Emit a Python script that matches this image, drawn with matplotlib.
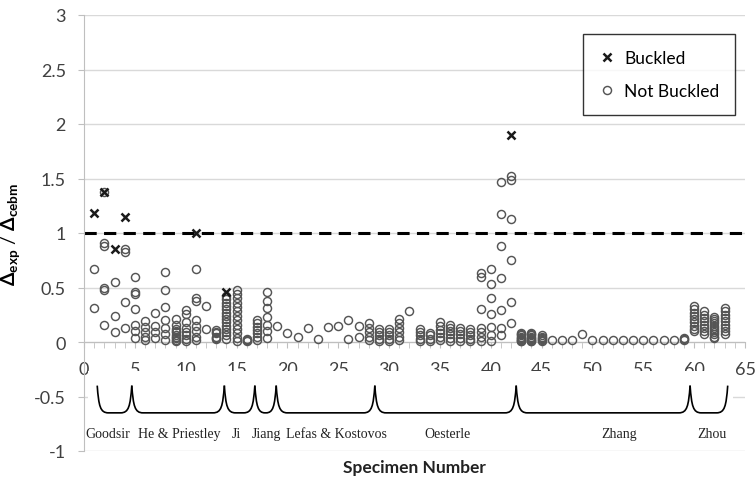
import numpy as np
import matplotlib
matplotlib.use('Agg')
import matplotlib.pyplot as plt
from matplotlib.path import Path
from matplotlib.patches import PathPatch, Rectangle
from matplotlib.lines import Line2D

plt.rcParams['font.family'] = ['Lato', 'DejaVu Sans']
plt.rcParams['mathtext.fontset'] = 'custom'
plt.rcParams['mathtext.rm'] = 'Lato:bold'
plt.rcParams['mathtext.it'] = 'Lato:bold'
plt.rcParams['mathtext.default'] = 'rm'

# Buckled specimens
b_x = [1, 2, 3, 4, 11, 14, 42]
b_y = [1.18, 1.38, 0.85, 1.15, 1.00, 0.46, 1.90]

# Not buckled specimens (specimen number, ratio)
nb_x = ([1]*2 + [2]*6 + [3]*3 + [4]*4 +                                   # Goodsir
        [5]*7 + [6]*5 + [7]*4 + [8]*7 + [9]*10 + [10]*8 + [11]*8 + [12]*2 + [13]*6 +  # He & Priestley
        [14]*14 + [15]*13 + [16]*4 +                                       # Ji
        [17]*7 + [18]*7 +                                                  # Jiang
        [19, 20, 21, 22, 23, 24, 25] + [26]*2 + [27]*2 + [28]*5 +           # Lefas & Kostovos
        [29]*5 + [30]*5 + [31]*6 + [32] + [33]*5 + [34]*4 + [35]*6 + [36]*6 +
        [37]*5 + [38]*5 + [39]*7 + [40]*7 + [41]*7 + [42]*6 +               # Oesterle
        [43]*9 + [44]*9 + [45]*6 + [46, 47, 48, 49, 50, 51, 52, 53, 54, 55, 56, 57, 58] + [59]*3 +  # Zhang
        [60]*9 + [61]*8 + [62]*11 + [63]*9)                                # Zhou
nb_y = ([0.67, 0.31] + [1.38, 0.91, 0.88, 0.50, 0.48, 0.16] + [0.55, 0.24, 0.09] + [0.85, 0.83, 0.37, 0.13] +
        [0.60, 0.46, 0.44, 0.30, 0.16, 0.10, 0.04] + [0.19, 0.14, 0.09, 0.05, 0.02] + [0.27, 0.15, 0.09, 0.04] +
        [0.64, 0.48, 0.32, 0.20, 0.13, 0.07, 0.02] + [0.21, 0.16, 0.12, 0.10, 0.09, 0.06, 0.05, 0.04, 0.02, 0.01] +
        [0.29, 0.26, 0.18, 0.13, 0.09, 0.06, 0.03, 0.01] + [0.67, 0.40, 0.38, 0.20, 0.15, 0.10, 0.05, 0.02] +
        [0.33, 0.12] + [0.11, 0.09, 0.08, 0.05, 0.04, 0.03] +
        [0.42, 0.39, 0.36, 0.33, 0.30, 0.27, 0.24, 0.21, 0.18, 0.15, 0.12, 0.09, 0.06, 0.03] +
        [0.48, 0.44, 0.40, 0.36, 0.32, 0.28, 0.24, 0.20, 0.16, 0.12, 0.08, 0.04, 0.01] + [0.03, 0.02, 0.02, 0.01] +
        [0.20, 0.17, 0.14, 0.11, 0.08, 0.05, 0.02] + [0.46, 0.38, 0.31, 0.23, 0.16, 0.10, 0.04] +
        [0.15, 0.08, 0.05, 0.13, 0.03, 0.14, 0.15] + [0.20, 0.03] + [0.15, 0.05] + [0.17, 0.13, 0.09, 0.05, 0.02] +
        [0.12, 0.09, 0.06, 0.03, 0.01] + [0.12, 0.09, 0.06, 0.03, 0.01] + [0.21, 0.17, 0.13, 0.09, 0.05, 0.02] +
        [0.28] + [0.12, 0.09, 0.06, 0.03, 0.01] + [0.08, 0.06, 0.03, 0.01] + [0.18, 0.15, 0.11, 0.08, 0.05, 0.02] +
        [0.16, 0.13, 0.10, 0.07, 0.04, 0.01] + [0.13, 0.10, 0.07, 0.04, 0.01] + [0.12, 0.09, 0.06, 0.03, 0.01] +
        [0.63, 0.60, 0.30, 0.13, 0.09, 0.05, 0.01] + [0.67, 0.53, 0.40, 0.26, 0.14, 0.06, 0.01] +
        [1.47, 1.17, 0.88, 0.59, 0.29, 0.13, 0.06] + [1.52, 1.49, 1.13, 0.75, 0.37, 0.17] +
        [0.08, 0.07, 0.06, 0.05, 0.04, 0.03, 0.02, 0.01, 0.01] + [0.08, 0.07, 0.06, 0.05, 0.04, 0.03, 0.02, 0.01, 0.01] +
        [0.06, 0.05, 0.04, 0.03, 0.02, 0.01] +
        [0.02, 0.02, 0.02, 0.07, 0.02, 0.02, 0.02, 0.02, 0.02, 0.02, 0.02, 0.02, 0.02] + [0.04, 0.03, 0.02] +
        [0.33, 0.30, 0.27, 0.24, 0.21, 0.18, 0.15, 0.12, 0.10] + [0.28, 0.25, 0.22, 0.19, 0.16, 0.13, 0.10, 0.07] +
        [0.23, 0.21, 0.19, 0.17, 0.15, 0.13, 0.11, 0.09, 0.07, 0.05, 0.04] +
        [0.31, 0.28, 0.25, 0.22, 0.19, 0.16, 0.13, 0.10, 0.07])

# brace boundaries and author names
brace_edges = [1.3, 4.7, 13.8, 16.8, 18.9, 28.6, 42.5, 59.6, 63.3]
authors = ['Goodsir', 'He & Priestley', 'Ji', 'Jiang', 'Lefas & Kostovos', 'Oesterle', 'Zhang', 'Zhou']
author_x = [2.3, 9.4, 15.0, 17.9, 24.8, 35.7, 52.6, 61.7]

fig = plt.figure(figsize=(7.56, 4.81), dpi=100)
ax = fig.add_axes([84/756, 1-452/481, 661/756, 436/481])
ax.set_xlim(0, 65)
ax.set_ylim(-1, 3)

for s in ['top', 'right']:
    ax.spines[s].set_visible(False)
ax.spines['bottom'].set_position(('data', 0))
ax.spines['bottom'].set_color('#bfbfbf')
ax.spines['left'].set_color('#bfbfbf')
ax.yaxis.grid(True, color='#d9d9d9', lw=1.0)
ax.set_axisbelow(True)

yt = np.arange(-1, 3.01, 0.5)
ax.set_yticks(yt)
ax.set_yticklabels(['%g' % v for v in yt])
ax.set_xticks(np.arange(0, 66, 5))
ax.set_xticks(np.arange(0, 66, 1), minor=True)
ax.tick_params(axis='both', which='both', color='#bfbfbf', length=4, labelsize=13, labelcolor='#404040')
ax.tick_params(axis='x', pad=10)
ax.tick_params(axis='y', pad=9)

# white band behind braces
ax.add_patch(Rectangle((0.4, -0.97), 63.4, 0.7, facecolor='white', edgecolor='none', zorder=1))

ax.axhline(1, color='black', lw=2.2, dashes=(4, 2.4), zorder=2)
ax.plot(nb_x, nb_y, 'o', ls='none', ms=5.8, mfc='none', mec='#555555', mew=1.05, zorder=3)
ax.plot(b_x, b_y, 'x', ls='none', ms=6, mew=1.8, color='#1a1a1a', zorder=4)

# braces
top, bot = -0.40, -0.65
for a, b in zip(brace_edges[:-1], brace_edges[1:]):
    c = min(1.1, (b - a) / 2 - 0.05)
    verts = [(a, top), (a + 0.15, bot + 0.06), (a + 0.3, bot), (a + c, bot),
             (b - c, bot), (b - 0.3, bot), (b - 0.15, bot + 0.06), (b, top)]
    codes = [Path.MOVETO, Path.CURVE4, Path.CURVE4, Path.CURVE4,
             Path.LINETO, Path.CURVE4, Path.CURVE4, Path.CURVE4]
    ax.add_patch(PathPatch(Path(verts, codes), fill=False, lw=1.2, edgecolor='black', zorder=2))
for name, xc in zip(authors, author_x):
    ax.text(xc, -0.84, name, ha='center', va='center', fontsize=10,
            family='Liberation Serif', color='#222222')

ax.set_ylabel(r'$\Delta_{exp}$ / $\Delta_{cebm}$', fontsize=14)
ax.yaxis.set_label_coords(-0.094, 0.5)
ax.text(32.5, -1.15, 'Specimen Number', ha='center', va='center', fontsize=12.5,
        fontweight='bold', color='#222222', clip_on=False)

handles = [Line2D([], [], marker='x', ls='none', ms=6, mew=1.8, color='#1a1a1a'),
           Line2D([], [], marker='o', ls='none', ms=5.8, mfc='none', mec='#555555', mew=1.05)]
leg = ax.legend(handles, ['Buckled', 'Not Buckled'], loc='upper right', bbox_to_anchor=(0.985, 0.956),
                borderaxespad=0, fontsize=12.5, frameon=True, fancybox=False, labelspacing=1.0,
                handlelength=1.0, handletextpad=0.5, borderpad=0.9)
leg.get_frame().set_edgecolor('black')
leg.get_frame().set_linewidth(1.0)

fig.savefig('out.png', dpi=100)
